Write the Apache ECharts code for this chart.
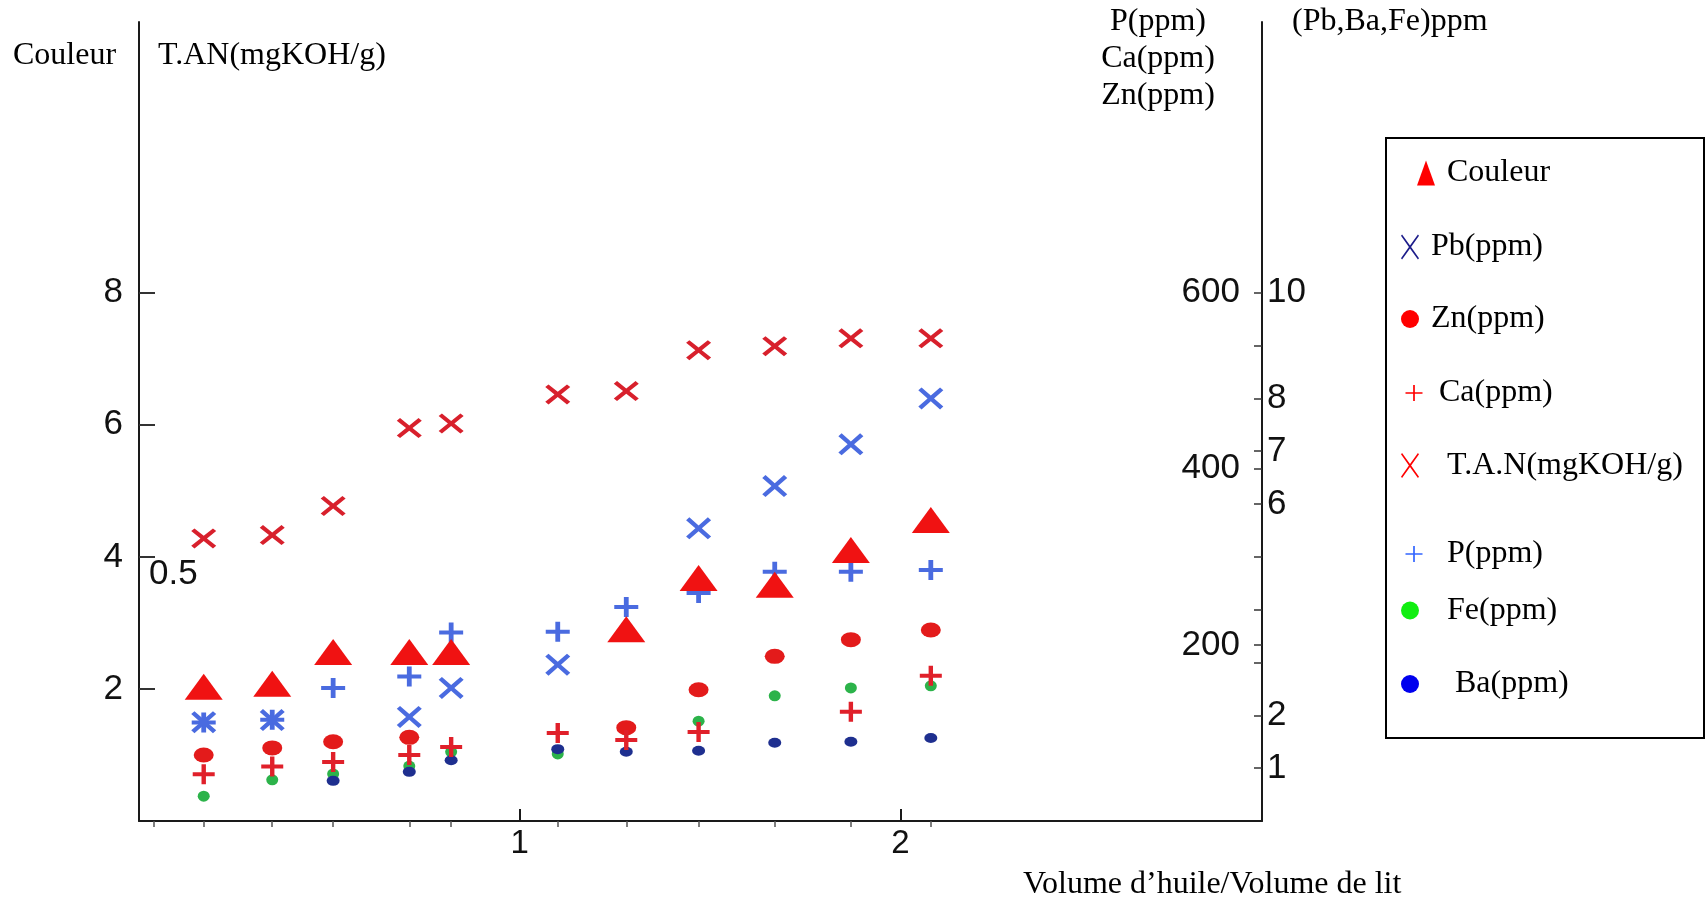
<!DOCTYPE html>
<html><head><meta charset="utf-8">
<script src="https://cdn.jsdelivr.net/npm/echarts@6/dist/echarts.min.js"></script>
<style>html,body{margin:0;padding:0;background:#fff}#c{width:1706px;height:904px}</style>
</head><body><div id="c"></div><script>
// ---- data ----
const xs      = [0.17, 0.35, 0.51, 0.71, 0.82, 1.10, 1.28, 1.47, 1.67, 1.87, 2.08];
const tan     = [4.28, 4.33, 4.77, 5.95, 6.02, 6.46, 6.51, 7.13, 7.19, 7.31, 7.31];
const couleur = [0.254, 0.26, 0.32, 0.32, 0.32, null, 0.363, 0.46, 0.447, 0.513, 0.57];
const pb      = [1.87, 1.91, null, 1.97, 2.52, 2.96, null, 5.54, 6.34, 7.13, 8.0];
const p       = [112, 115, 151, 164, 214, 215, 243, 259, 283, 283, 285];
const zn      = [75, 83, 90, 95, null, null, 106, 149, 187, 206, 217];
const ca      = [53, 62, 67, 75, 84, 100, 92, 101, null, 124, 165];
const fe      = [0.47, 0.78, 0.89, 1.04, 1.31, 1.27, 1.72, 1.89, 2.37, 2.52, 2.56];
const ba      = [null, null, 0.76, 0.93, 1.15, 1.36, 1.31, 1.33, 1.48, 1.50, 1.57];
const xLabelVals   = [1, 2];
const xMinorTicks  = [0.04].concat(xs);
const tanLabels    = [2, 4, 6, 8];
const couleurLabels= [0.5];
const pLabels      = [200, 400, 600];
const pbTicks      = [1, 2, 3, 4, 5, 6, 7, 8, 9, 10];
const pbLabels     = [1, 2, 6, 7, 8, 10];

const SERIF = '"Liberation Serif","Times New Roman",Times,serif';
const NUM = '"Liberation Sans",Arial,sans-serif';

const X_THICK = 'path://M0,1.3L1.3,0L5,3.7L8.7,0L10,1.3L6.3,5L10,8.7L8.7,10L5,6.3L1.3,10L0,8.7L3.7,5Z';
const PLUS_THICK = 'path://M4,0H6V4H10V6H6V10H4V6H0V4H4Z';
const X_THIN = 'path://M0,0.5L0.6,0L5,4.4L9.4,0L10,0.5L5.6,5L10,9.5L9.4,10L5,5.6L0.6,10L0,9.5L4.4,5Z';
const PLUS_THIN = 'path://M4.5,0H5.5V4.5H10V5.5H5.5V10H4.5V5.5H0V4.5H4.5Z';

function pts(vals){ return xs.map((x,i)=> vals[i]==null ? null : [x, vals[i]]).filter(Boolean); }

function sc(name, yi, vals, symbol, size, color){
  return {name, type:'scatter', xAxisIndex:0, yAxisIndex:yi, data:pts(vals), symbol, symbolSize:size,
    itemStyle:{color, opacity:1}, emphasis:{disabled:true}, silent:true};
}

function lg(name, icon, color, left, top, w, h, padL){
  return {show:true, data:[{name, icon, itemStyle:{color, borderWidth:0}}], left, top, orient:'vertical',
    itemWidth:w, itemHeight:h, padding:0, itemGap:0, selectedMode:false, symbolKeepAspect:false,
    textStyle:{fontFamily:SERIF, fontSize:32, color:'#000', padding:[0,0,0,padL]}};
}

function txt(text, x, y, align){
  return {type:'text', x, y, silent:true,
    style:{text, fill:'#000', font:'32px ' + SERIF, align:align||'left', verticalAlign:'middle',
      textAlign:align||'left', textVerticalAlign:'middle'}};
}

const axisLine = {show:true, lineStyle:{color:'#1a1a1a', width:2}};
const numLabel = {fontFamily:NUM, fontSize:35, color:'#111'};

const chart = echarts.init(document.getElementById('c'), null, {renderer:'canvas'});
chart.setOption({
  animation:false,
  backgroundColor:'#fff',
  grid:{left:139, right:444, top:22, bottom:83, containLabel:false},
  xAxis:[
    {type:'value', min:0, max:2.95, position:'bottom', axisLine,
     splitLine:{show:false},
     axisTick:{show:true, inside:true, length:12, customValues:xLabelVals, lineStyle:{color:'#1a1a1a', width:2}},
     axisLabel:{show:true, customValues:xLabelVals, margin:6, fontFamily:NUM, fontSize:33, color:'#111'}},
    {type:'value', min:0, max:2.95, position:'bottom', axisLine:{show:false},
     splitLine:{show:false},
     axisTick:{show:true, inside:false, length:6, customValues:xMinorTicks, lineStyle:{color:'#555', width:1.5}},
     axisLabel:{show:false}}
  ],
  yAxis:[
    {type:'value', min:0, max:12.1, position:'left', offset:0, axisLine, splitLine:{show:false},
     axisTick:{show:true, inside:true, length:16, customValues:tanLabels, lineStyle:{color:'#333', width:2}},
     axisLabel:Object.assign({customValues:tanLabels, margin:16}, numLabel)},
    {type:'value', min:0, max:1.5125, position:'left', offset:0, axisLine:{show:false}, splitLine:{show:false},
     axisTick:{show:false},
     axisLabel:Object.assign({customValues:couleurLabels, inside:true, margin:10, verticalAlign:'top'}, numLabel)},
    {type:'value', min:0, max:907.5, position:'right', offset:0, axisLine, splitLine:{show:false},
     axisTick:{show:true, inside:true, length:8, customValues:pLabels, lineStyle:{color:'#333', width:1.5}},
     axisLabel:Object.assign({customValues:pLabels, inside:true, margin:22}, numLabel)},
    {type:'value', min:0, max:15.125, position:'right', offset:0, axisLine:{show:false}, splitLine:{show:false},
     axisTick:{show:true, inside:true, length:8, customValues:pbTicks, lineStyle:{color:'#333', width:1.5}},
     axisLabel:Object.assign({customValues:pbLabels, margin:5}, numLabel)}
  ],
  legend:[
    lg('Couleur',        'triangle', '#ff0000', 1417, 157, 18, 25, 7),
    lg('Pb(ppm)',        X_THIN,     '#1c1c8a', 1401, 231, 18, 25, 7),
    lg('Zn(ppm)',        'circle',   '#ff0000', 1401, 303, 18, 25, 7),
    lg('Ca(ppm)',        PLUS_THIN,  '#ff0000', 1405.5, 377, 17, 16, 11.5),
    lg('T.A.N(mgKOH/g)', X_THIN,     '#ff0000', 1401, 449.5, 18, 25, 23),
    lg('P(ppm)',         PLUS_THIN,  '#3366ff', 1405.5, 538, 17, 16, 19.5),
    lg('Fe(ppm)',        'circle',   '#11ee11', 1401, 594.5, 18, 25, 23),
    lg('Ba(ppm)',        'circle',   '#0000ee', 1401, 668, 18, 25, 31)
  ],
  series:[
    sc('Fe(ppm)', 3, fe, 'circle', [12,11], '#2cb34a'),
    sc('Ba(ppm)', 3, ba, 'circle', [13,10], '#1e2f8f'),
    sc('Zn(ppm)', 2, zn, 'circle', [20,15], '#e31b1b'),
    sc('Ca(ppm)', 2, ca, PLUS_THICK, [22,20], '#e0202a'),
    sc('P(ppm)', 2, p, PLUS_THICK, [24,20], '#4a6be0'),
    sc('Pb(ppm)', 3, pb, X_THICK, [25,22], '#4a6be0'),
    sc('Couleur', 1, couleur, 'triangle', [38,26], '#f01212'),
    sc('T.A.N(mgKOH/g)', 0, tan, X_THICK, [25,20], '#d8202c')
  ],
  graphic:[
    {type:'rect', silent:true, shape:{x:1386, y:138, width:318, height:600},
     style:{fill:'none', stroke:'#000', lineWidth:2}},
    txt('Couleur', 13, 56),
    txt('T.AN(mgKOH/g)', 158, 56),
    txt('P(ppm)', 1158, 22, 'center'),
    txt('Ca(ppm)', 1158, 59, 'center'),
    txt('Zn(ppm)', 1158, 96, 'center'),
    txt('(Pb,Ba,Fe)ppm', 1292, 22),
    txt('Volume d\u2019huile/Volume de lit', 1023, 885)
  ]
});
</script></body></html>
